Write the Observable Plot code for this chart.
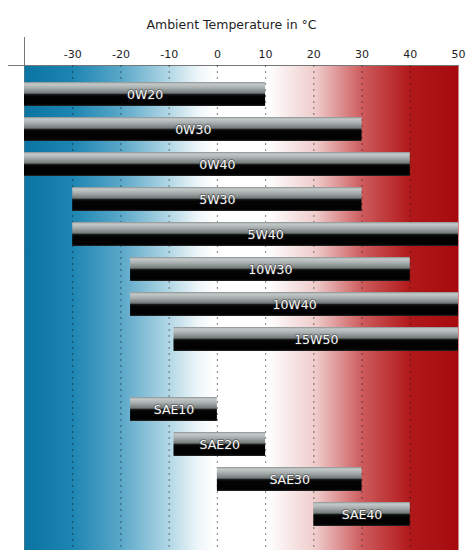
<!DOCTYPE html>
<html>
<head>
<meta charset="utf-8">
<script src="https://cdn.jsdelivr.net/npm/d3@7"></script>
<script src="https://cdn.jsdelivr.net/npm/@observablehq/plot@0.6"></script>
<style>
  html, body { margin: 0; padding: 0; background: #fff; }
  #chart { font-family: "DejaVu Sans", sans-serif; }
</style>
</head>
<body>
<div id="chart"></div>
<script>
// Oil viscosity grades and the ambient temperature range (°C) each one covers
const grades  = ["0W20", "0W30", "0W40", "5W30", "5W40", "10W30", "10W40", "15W50", "SAE10", "SAE20", "SAE30", "SAE40"];
const minTemp = [-40, -40, -40, -30, -30, -18, -18, -9, -18, -9, 0, 20];
const maxTemp = [10, 30, 40, 30, 50, 40, 50, 50, 0, 10, 30, 40];
const tempTicks = [-30, -20, -10, 0, 10, 20, 30, 40, 50];
const title = "Ambient Temperature in °C";

// Multigrade oils first, a blank row, then the single-grade oils
const rows = [...grades.slice(0, 8), "", ...grades.slice(8)];
const oils = grades.map((grade, i) => ({grade, lo: minTemp[i], hi: maxTemp[i]}));

// Gradients: cold-to-hot background and the glossy bar shading
function gradients() {
  const defs = document.createElementNS("http://www.w3.org/2000/svg", "defs");
  defs.innerHTML = `
    <linearGradient id="tempBg" x1="0" x2="1" y1="0" y2="0">
      <stop offset="0" stop-color="#0a74a2"/>
      <stop offset="0.11" stop-color="#1d85b2"/>
      <stop offset="0.22" stop-color="#58a7c8"/>
      <stop offset="0.33" stop-color="#b0d6e5"/>
      <stop offset="0.40" stop-color="#eef6f9"/>
      <stop offset="0.44" stop-color="#ffffff"/>
      <stop offset="0.56" stop-color="#ffffff"/>
      <stop offset="0.67" stop-color="#efcccc"/>
      <stop offset="0.78" stop-color="#cd5a5b"/>
      <stop offset="0.89" stop-color="#b1181a"/>
      <stop offset="1" stop-color="#a60a0c"/>
    </linearGradient>
    <linearGradient id="barShade" x1="0" x2="0" y1="0" y2="1">
      <stop offset="0" stop-color="#8a9090"/>
      <stop offset="0.08" stop-color="#c4c9c9"/>
      <stop offset="0.24" stop-color="#a9afaf"/>
      <stop offset="0.46" stop-color="#737a7a"/>
      <stop offset="0.52" stop-color="#1a1c1c"/>
      <stop offset="0.58" stop-color="#040404"/>
      <stop offset="0.92" stop-color="#000000"/>
      <stop offset="1" stop-color="#262626"/>
    </linearGradient>`;
  return defs;
}

const chart = Plot.plot({
  width: 467,
  height: 550,
  marginTop: 65,
  marginBottom: 0,
  marginLeft: 24,
  marginRight: 9,
  style: {fontFamily: "DejaVu Sans, sans-serif", fontSize: "11px", color: "#1e1e1e", background: "#fff"},
  x: {domain: [-40, 50]},
  y: {type: "band", domain: rows, range: [81.4, 526.8], paddingInner: 0.31, paddingOuter: 0, axis: null},
  marks: [
    gradients,
    // left axis line poking above the temperature axis
    Plot.ruleX([-40], {stroke: "#777", insetTop: -28}),
    Plot.frame({fill: "url(#tempBg)", stroke: "none"}),
    Plot.frame({anchor: "top", stroke: "#777", insetLeft: -16}),
    // dotted grid at every labelled temperature
    Plot.ruleX(tempTicks.filter((t) => t < 50), {stroke: "#1a1a1a", strokeOpacity: 0.55, strokeDasharray: "2,4"}),
    Plot.barX(oils, {x1: "lo", x2: "hi", y: "grade", fill: "url(#barShade)"}),
    Plot.text(oils, {
      x: (d) => (d.lo + d.hi) / 2,
      y: "grade",
      text: "grade",
      fill: "#f6f6f6",
      stroke: "#333",
      strokeWidth: 1.5,
      strokeOpacity: 0.6,
      fontSize: 12.5
    }),
    Plot.axisX({
      anchor: "top",
      ticks: tempTicks,
      tickSize: 0,
      tickPadding: 8,
      tickFormat: (d) => String(d),
      label: null
    }),
    Plot.text([title], {frameAnchor: "top", dy: -45, dx: -10, fontSize: 12.5, fill: "#1e1e1e"})
  ]
});

document.getElementById("chart").append(chart);
</script>
</body>
</html>
